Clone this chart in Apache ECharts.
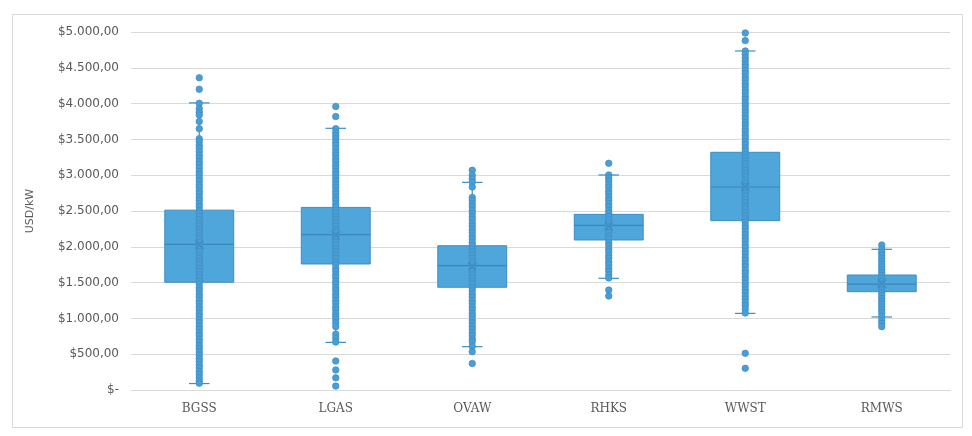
<!DOCTYPE html>
<html>
<head>
<meta charset="utf-8">
<script src="https://cdn.jsdelivr.net/npm/echarts@6/dist/echarts.min.js"></script>
<style>html,body{margin:0;padding:0;background:#fff}#c{width:972px;height:436px}</style>
</head>
<body>
<div id="c"></div>
<script>
const categories = ['BGSS','LGAS','OVAW','RHKS','WWST','RMWS'];
const whiskerLow  = [90, 665, 605, 1560, 1070, 1020];
const q1          = [1505, 1760, 1435, 2095, 2365, 1373];
const median      = [2035, 2170, 1736, 2300, 2835, 1480];
const q3          = [2512, 2550, 2015, 2453, 3320, 1606];
const whiskerHigh = [4010, 3655, 2900, 3003, 4735, 1965];
const mean        = [2030, 2160, 1725, 2290, 2840, 1485];

const bgssPoints = [4360, 4200, 4005, 3930, 3880, 3840, 3750, 3650, 3510, 3470, 3420, 3380, 3330, 3280, 3240, 3190, 3150, 3100, 3050, 3010, 2960, 2920, 2870, 2830, 2780, 2740, 2690, 2650, 2600, 2560, 2510, 2470, 2420, 2380, 2330, 2290, 2240, 2200, 2150, 2110, 2060, 2020, 1970, 1930, 1880, 1840, 1790, 1750, 1700, 1660, 1610, 1570, 1520, 1480, 1430, 1390, 1340, 1300, 1250, 1210, 1160, 1120, 1070, 1030, 980, 940, 890, 850, 800, 760, 710, 670, 620, 580, 530, 490, 440, 400, 350, 310, 260, 220, 170, 130, 95];
const lgasPoints = [3960, 3820, 3650, 3600, 3555, 3510, 3460, 3420, 3370, 3320, 3280, 3230, 3190, 3140, 3100, 3050, 3010, 2960, 2915, 2870, 2830, 2780, 2740, 2690, 2650, 2600, 2560, 2510, 2470, 2420, 2380, 2330, 2290, 2240, 2200, 2150, 2110, 2060, 2020, 1970, 1930, 1880, 1840, 1790, 1750, 1700, 1660, 1610, 1570, 1520, 1480, 1430, 1390, 1340, 1300, 1250, 1210, 1160, 1120, 1070, 1030, 985, 940, 885, 780, 725, 670, 405, 280, 170, 55];
const ovawPoints = [3070, 3000, 2950, 2900, 2835, 2690, 2650, 2600, 2560, 2510, 2470, 2420, 2380, 2330, 2290, 2240, 2200, 2150, 2110, 2060, 2020, 1970, 1930, 1880, 1840, 1790, 1750, 1700, 1660, 1610, 1570, 1520, 1480, 1430, 1390, 1340, 1300, 1250, 1210, 1160, 1120, 1070, 1030, 980, 940, 890, 850, 800, 760, 710, 675, 610, 535, 370];
const rhksPoints = [3166, 3003, 2960, 2920, 2870, 2830, 2780, 2740, 2690, 2650, 2600, 2560, 2510, 2470, 2420, 2380, 2330, 2290, 2240, 2200, 2150, 2110, 2060, 2020, 1970, 1930, 1880, 1840, 1790, 1750, 1700, 1660, 1610, 1565, 1397, 1313];
const wwstPoints = [4986, 4880, 4735, 4690, 4640, 4600, 4550, 4510, 4460, 4420, 4370, 4330, 4280, 4240, 4190, 4150, 4100, 4060, 4010, 3970, 3920, 3880, 3830, 3790, 3740, 3700, 3650, 3610, 3560, 3520, 3470, 3430, 3380, 3340, 3290, 3250, 3200, 3160, 3110, 3070, 3020, 2980, 2930, 2890, 2840, 2800, 2750, 2710, 2660, 2620, 2570, 2530, 2480, 2440, 2390, 2350, 2300, 2260, 2210, 2170, 2120, 2080, 2030, 1990, 1940, 1900, 1850, 1810, 1760, 1720, 1670, 1630, 1580, 1540, 1490, 1450, 1400, 1360, 1310, 1270, 1220, 1180, 1130, 1075, 512, 303];
const rmwsPoints = [2025, 1965, 1925, 1885, 1840, 1800, 1760, 1720, 1680, 1640, 1600, 1560, 1520, 1480, 1440, 1400, 1360, 1320, 1280, 1240, 1200, 1160, 1120, 1080, 1030, 975, 930, 885];

const yTicks = [0, 500, 1000, 1500, 2000, 2500, 3000, 3500, 4000, 4500, 5000];

const allPoints = [bgssPoints, lgasPoints, ovawPoints, rhksPoints, wwstPoints, rmwsPoints];
const scatterData = [];
allPoints.forEach((arr, i) => arr.forEach(v => scatterData.push([i, v])));
const boxData = categories.map((c, i) => [i, whiskerLow[i], q1[i], median[i], q3[i], whiskerHigh[i]]);
const meanData = categories.map((c, i) => [i, mean[i]]);

function fmt(v) {
  if (v === 0) return '$-';
  const s = String(Math.round(v)).replace(/\B(?=(\d{3})+(?!\d))/g, '.');
  return '$' + s + ',00';
}

const boxFill = '#4FA6DB';
const boxLine = '#3D8EC4';

const chart = echarts.init(document.getElementById('c'), null, {renderer: 'canvas'});
chart.setOption({
  animation: false,
  backgroundColor: '#fff',
  graphic: [{
    type: 'rect', left: 12, top: 14, z: -10,
    shape: {x: 0, y: 0, width: 950, height: 413},
    style: {fill: '#fff', stroke: '#D9D9D9', lineWidth: 1}
  }],
  grid: {left: 131, right: 22, top: 32, bottom: 46},
  xAxis: {
    type: 'category', data: categories,
    axisLine: {show: true, lineStyle: {color: '#D9D9D9'}},
    axisTick: {show: false},
    axisLabel: {color: '#595959', fontSize: 12, fontFamily: 'DejaVu Serif', margin: 13},
    splitLine: {show: false}
  },
  yAxis: {
    type: 'value', min: 0, max: 5000, interval: 500,
    name: 'USD/kW', nameLocation: 'middle', nameGap: 95, nameRotate: 90,
    nameTextStyle: {color: '#595959', fontSize: 11, fontFamily: 'DejaVu Sans'},
    axisLine: {show: false}, axisTick: {show: false},
    axisLabel: {color: '#595959', fontSize: 12, fontFamily: 'DejaVu Sans', margin: 12,
      formatter: v => yTicks.indexOf(v) >= 0 ? fmt(v) : ''},
    splitLine: {lineStyle: {color: '#D9D9D9', width: 1}}
  },
  series: [
    {
      type: 'custom',
      data: boxData,
      z: 2,
      renderItem: function (params, api) {
        const x = api.value(0);
        const bandW = api.size([1, 0])[0];
        const bw = bandW * 0.505;
        const cw = bandW * 0.15;
        const pLow = api.coord([x, api.value(1)]);
        const pQ1 = api.coord([x, api.value(2)]);
        const pMed = api.coord([x, api.value(3)]);
        const pQ3 = api.coord([x, api.value(4)]);
        const pHigh = api.coord([x, api.value(5)]);
        const cx = pQ1[0];
        const ls = {stroke: boxLine, lineWidth: 1.2};
        return {
          type: 'group',
          children: [
            {type: 'line', shape: {x1: cx, y1: pQ3[1], x2: cx, y2: pHigh[1]}, style: ls},
            {type: 'line', shape: {x1: cx, y1: pQ1[1], x2: cx, y2: pLow[1]}, style: ls},
            {type: 'line', shape: {x1: cx - cw / 2, y1: pHigh[1], x2: cx + cw / 2, y2: pHigh[1]}, style: ls},
            {type: 'line', shape: {x1: cx - cw / 2, y1: pLow[1], x2: cx + cw / 2, y2: pLow[1]}, style: ls},
            {type: 'rect', shape: {x: cx - bw / 2, y: pQ3[1], width: bw, height: pQ1[1] - pQ3[1]},
              style: {fill: boxFill, stroke: boxLine, lineWidth: 1}},
            {type: 'line', shape: {x1: cx - bw / 2, y1: pMed[1], x2: cx + bw / 2, y2: pMed[1]},
              style: {stroke: '#3A86BA', lineWidth: 1.2}}
          ]
        };
      }
    },
    {
      type: 'scatter',
      data: scatterData,
      z: 3,
      symbol: 'circle',
      symbolSize: 6.5,
      itemStyle: {color: '#4A9ED6', borderColor: '#3C8DC3', borderWidth: 0.7, opacity: 1}
    },
    {
      type: 'scatter',
      data: meanData,
      z: 4,
      symbol: 'path://M0,1L1,0L5,4L9,0L10,1L6,5L10,9L9,10L5,6L1,10L0,9L4,5Z',
      symbolSize: 9,
      itemStyle: {color: '#3A86BA', opacity: 0.7}
    }
  ]
});
</script>
</body>
</html>
